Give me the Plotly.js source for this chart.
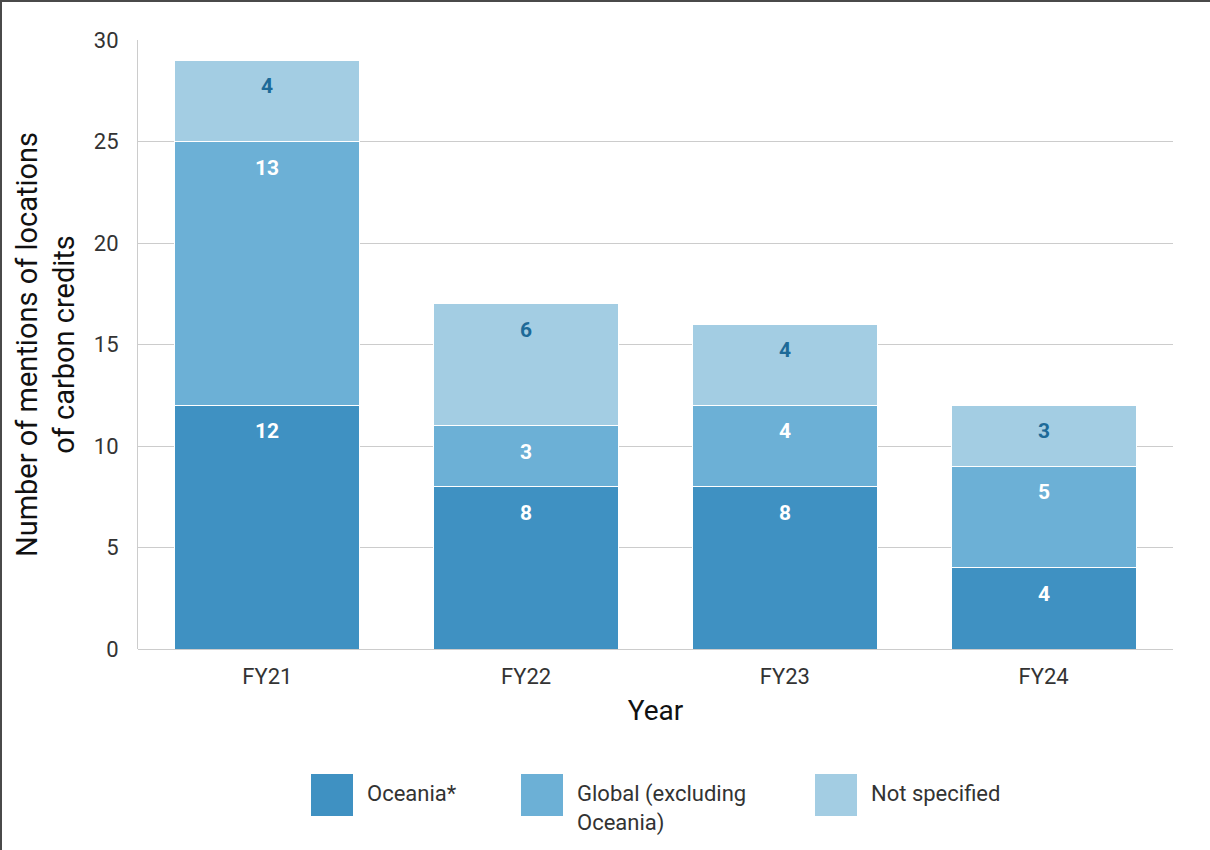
<!DOCTYPE html>
<html>
<head>
<meta charset="utf-8">
<script src="https://cdn.plot.ly/plotly-3.0.1.min.js"></script>
<style>
  html, body { margin: 0; padding: 0; background: #fff; }
  #frame { position: relative; width: 1210px; height: 850px; box-sizing: border-box;
           border-top: 2px solid #4a4a4a; border-left: 2px solid #4a4a4a; }
  #chart { position: absolute; left: -2px; top: -2px; width: 1210px; height: 850px; }
</style>
</head>
<body>
<div id="frame"><div id="chart"></div></div>
<script>
// Mentions of carbon credit locations by financial year
const years = ['FY21', 'FY22', 'FY23', 'FY24'];
const oceania = [12, 8, 8, 4];
const globalExOceania = [13, 3, 4, 5];
const notSpecified = [4, 6, 4, 3];

const seriesNames = ['Oceania*', 'Global (excluding<br>Oceania)', 'Not specified'];
const seriesColors = ['#3f91c2', '#6cb0d6', '#a3cde3'];
const labelColors = ['#ffffff', '#ffffff', '#1d6a98'];
const seriesValues = [oceania, globalExOceania, notSpecified];

const FONT = 'Roboto, "Open Sans", sans-serif';

const traces = seriesValues.map((vals, i) => ({
  type: 'bar',
  x: years,
  y: vals,
  name: seriesNames[i],
  marker: { color: seriesColors[i], line: { color: '#ffffff', width: 1 } },
  showlegend: false,
  hoverinfo: 'x+y+name'
}));

// Value labels sit just below the top of each stacked segment
const annotations = [];
const cum = years.map(() => 0);
seriesValues.forEach((vals, i) => {
  vals.forEach((v, j) => {
    cum[j] += v;
    annotations.push({
      x: years[j], y: cum[j], xref: 'x', yref: 'y',
      text: '<b>' + v + '</b>', showarrow: false,
      yanchor: 'middle', yshift: -26,
      font: { family: FONT, size: 21, color: labelColors[i] }
    });
  });
});

// Legend drawn with large square swatches
const legendX = [311, 521, 815];   // swatch left edges in px
const W = 1210, H = 850;
const shapes = [];
seriesNames.forEach((name, i) => {
  const x0 = legendX[i], y0 = 774, s = 42;
  shapes.push({
    type: 'rect', xref: 'paper', yref: 'paper',
    x0: (x0 - 138) / (W - 138 - 37), x1: (x0 + s - 138) / (W - 138 - 37),
    y0: (649 - (y0 + s)) / (649 - 40), y1: (649 - y0) / (649 - 40),
    fillcolor: seriesColors[i], line: { width: 0 }
  });
  annotations.push({
    xref: 'paper', yref: 'paper',
    x: (x0 + s + 12 - 138) / (W - 138 - 37),
    y: (649 - 779) / (649 - 40),
    xanchor: 'left', yanchor: 'top', align: 'left',
    text: name, showarrow: false,
    font: { family: FONT, size: 22, color: '#333333' }
  });
});

const layout = {
  width: W, height: H,
  margin: { l: 138, r: 37, t: 40, b: 201 },
  paper_bgcolor: 'rgba(0,0,0,0)',
  plot_bgcolor: '#ffffff',
  barmode: 'stack',
  bargap: 0.285,
  showlegend: false,
  font: { family: FONT, color: '#333333' },
  xaxis: {
    type: 'category',
    tickfont: { family: FONT, size: 22, color: '#333333' },
    ticks: '', ticklabelstandoff: 12,
    showline: false, showgrid: false,
    title: { text: 'Year', font: { family: FONT, size: 28, color: '#111111' }, standoff: 12 }
  },
  yaxis: {
    range: [0, 30], dtick: 5,
    tickfont: { family: FONT, size: 22, color: '#333333' },
    ticks: '', ticklabelstandoff: 14,
    showgrid: true, gridcolor: '#cccccc', gridwidth: 1,
    showline: true, linecolor: '#cccccc', linewidth: 1,
    zeroline: true, zerolinecolor: '#cccccc', zerolinewidth: 1,
    title: { text: 'Number of mentions of locations<br>of carbon credits',
             font: { family: FONT, size: 29, color: '#111111' }, standoff: 10 }
  },
  annotations: annotations,
  shapes: shapes
};

Plotly.newPlot('chart', traces, layout, { displayModeBar: false, responsive: false });
</script>
</body>
</html>
